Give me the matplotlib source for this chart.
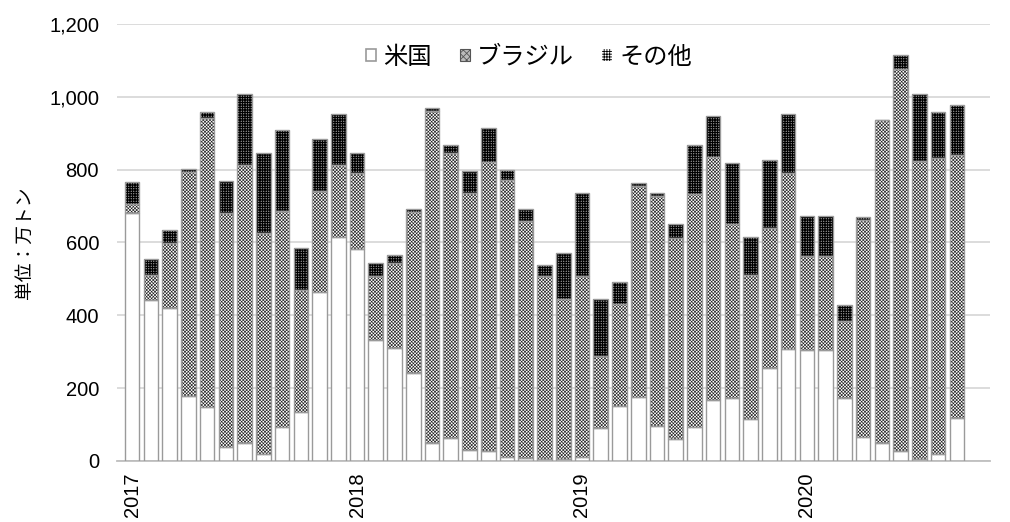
import numpy as np
import matplotlib
matplotlib.use('Agg')
import matplotlib.pyplot as plt
from matplotlib.patches import Patch

plt.rcParams['font.family'] = ['Noto Sans CJK JP', 'DejaVu Sans']

# monthly imports, 2017-01 .. 2020-09 (単位：万トン)
years = ['2017', '2018', '2019', '2020']
usa = [680, 442, 420, 177, 147, 39, 49, 19, 94, 134, 463, 616,
       582, 333, 310, 241, 49, 62, 30, 26, 10, 7, 6, 6,
       12, 90, 151, 175, 97, 60, 92, 168, 172, 115, 255, 308,
       305, 305, 172, 67, 49, 26, 5, 19, 117]
brazil = [25, 69, 178, 616, 795, 642, 764, 607, 593, 336, 279, 197,
          208, 175, 233, 442, 913, 785, 706, 795, 762, 653, 501, 439,
          495, 199, 280, 579, 631, 552, 642, 668, 479, 396, 386, 484,
          257, 257, 211, 595, 886, 1051, 818, 813, 724]
other = [60, 43, 35, 8, 16, 87, 195, 219, 223, 114, 143, 141,
         57, 35, 23, 9, 7, 21, 61, 93, 28, 32, 30, 126,
         230, 155, 60, 9, 8, 38, 134, 112, 167, 105, 186, 162,
         112, 112, 46, 8, 2, 39, 185, 126, 137]
labels = ['米国', 'ブラジル', 'その他']

usa = np.array(usa)
brazil = np.array(brazil)
other = np.array(other)
x = np.arange(len(usa))
w = 0.78
edge = '#9a9a9a'
br_hatch, br_lw = 'x' * 10, 0.45
ot_hatch, ot_lw = '+' * 10, 0.6

fig = plt.figure(figsize=(10.1, 5.22), dpi=100)
ax = fig.add_axes([0.116, 0.117, 0.864, 0.837])

# fills first (hatch takes the edge colour), outlines on top
ax.bar(x, usa, w, color='white', linewidth=0, zorder=2)
plt.rcParams['hatch.linewidth'] = br_lw
ax.bar(x, brazil, w, bottom=usa, color='white', edgecolor='#222222',
       hatch=br_hatch, linewidth=0, zorder=2)
plt.rcParams['hatch.linewidth'] = ot_lw
ax.bar(x, other, w, bottom=usa + brazil, color='white', edgecolor='black',
       hatch=ot_hatch, linewidth=0, zorder=2)
for vals, base in [(usa, 0), (brazil, usa), (other, usa + brazil)]:
    ax.bar(x, vals, w, bottom=base, facecolor='none', edgecolor=edge,
           linewidth=1.0, zorder=3)

ax.set_xlim(-0.8, 45.76)
ax.set_ylim(0, 1200)
ax.set_yticks(range(0, 1201, 200))
ax.set_yticklabels(['{:,}'.format(v) for v in range(0, 1201, 200)])
ax.set_xticks([0, 12, 24, 36])
ax.set_xticklabels(years, rotation=90)
ax.tick_params(axis='both', length=0, labelsize=14.5, colors='black')
ax.tick_params(axis='y', pad=13)
ax.tick_params(axis='x', pad=8)
for t in ax.get_xticklabels() + ax.get_yticklabels():
    t.set_family(['Liberation Sans', 'DejaVu Sans'])

ax.grid(axis='y', color='#d9d9d9', linewidth=1.3, zorder=0)
ax.set_axisbelow(True)
for s in ['top', 'right', 'left']:
    ax.spines[s].set_visible(False)
ax.spines['bottom'].set_color('#bfbfbf')
ax.spines['bottom'].set_linewidth(1.3)

ax.set_ylabel('単位：万トン', fontsize=13.5)
ax.yaxis.set_label_coords(-0.094, 0.5)

# legend swatches: small squares with their own hatch
plt.rcParams['hatch.linewidth'] = 0.6
h_br = Patch(facecolor='#bbbbbb', edgecolor='#555555', hatch='x' * 5, linewidth=0.8)
plt.rcParams['hatch.linewidth'] = ot_lw
h_ot = Patch(facecolor='white', edgecolor='black', hatch='+' * 6, linewidth=0)
handles = [Patch(facecolor='white', edgecolor=edge, linewidth=1.2), h_br, h_ot]
ax.legend(handles, labels, loc='upper center', bbox_to_anchor=(0.472, 1.005),
          ncol=3, frameon=False, fontsize=17.5, handlelength=0.42,
          handleheight=0.42, handletextpad=0.3, columnspacing=1.15)

fig.savefig('out.png', dpi=100)
